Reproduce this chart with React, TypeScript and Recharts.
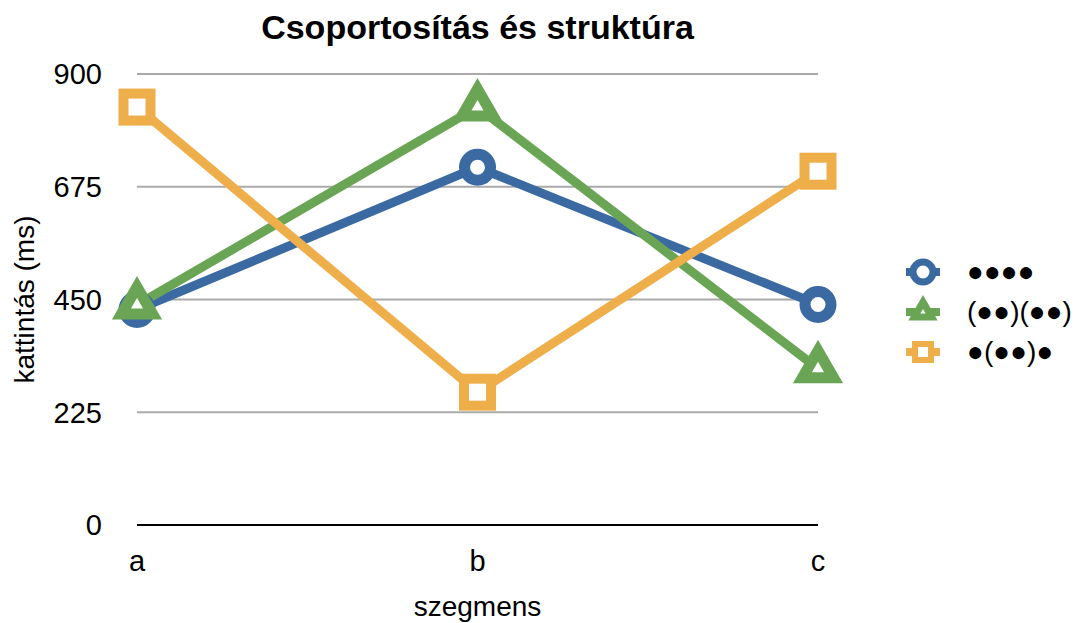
import React from "react";
import { CartesianGrid, Line, LineChart, XAxis, YAxis } from "recharts";

const categories = ["a", "b", "c"];
const yTicks = [0, 225, 450, 675, 900];

const fourDots = [430, 714, 440];
const pairedDots = [439, 834, 312];
const nestedDots = [834, 265, 706];

type Shape = "circle" | "triangle" | "square";

const series: { key: string; name: string; color: string; shape: Shape; values: number[] }[] = [
  { key: "s1", name: "●●●●", color: "#3b6aa2", shape: "circle", values: fourDots },
  { key: "s2", name: "(●●)(●●)", color: "#6aa556", shape: "triangle", values: pairedDots },
  { key: "s3", name: "●(●●)●", color: "#eeae4a", shape: "square", values: nestedDots },
];

const data = categories.map((cat, i) => {
  const row: Record<string, string | number> = { cat };
  series.forEach((s) => (row[s.key] = s.values[i]));
  return row;
});

const FONT = '"Liberation Sans", Arial, Helvetica, sans-serif';

function Marker({ cx, cy, shape, color, small }: { cx: number; cy: number; shape: Shape; color: string; small?: boolean }) {
  if (shape === "circle") {
    return <circle cx={cx} cy={cy} r={small ? 10 : 13} fill="#fff" stroke={color} strokeWidth={small ? 7 : 11} />;
  }
  if (shape === "square") {
    const s = small ? 16 : 27;
    return (
      <rect x={cx - s / 2} y={cy - s / 2} width={s} height={s} fill="#fff" stroke={color} strokeWidth={small ? 6 : 10} />
    );
  }
  const r = small ? 10 : 18;
  const h = r * 0.866;
  const pts = `${cx},${cy - r} ${cx + h},${cy + r / 2} ${cx - h},${cy + r / 2}`;
  return <polygon points={pts} fill="#fff" stroke={color} strokeWidth={small ? 7 : 11} strokeLinejoin="miter" />;
}

const dotFor = (shape: Shape, color: string) => (p: any) =>
  <Marker key={`${shape}-${p.index}`} cx={p.cx} cy={p.cy} shape={shape} color={color} />;

export default function App() {
  return (
    <div style={{ position: "absolute", left: 0, top: 0, width: 1077, height: 623, background: "#fff", fontFamily: FONT }}>
      <div
        style={{
          position: "absolute",
          left: 0,
          top: 10,
          width: 955,
          textAlign: "center",
          fontSize: 34,
          lineHeight: "34px",
          fontWeight: "bold",
          color: "#000",
        }}
      >
        Csoportosítás és struktúra
      </div>
      <LineChart width={1077} height={623} data={data} margin={{ top: 74, right: 259, bottom: 0, left: 0 }}>
        <CartesianGrid vertical={false} stroke="#aaaaaa" strokeWidth={2} />
        <XAxis
          dataKey="cat"
          height={98}
          padding={{ left: 0, right: 0 }}
          axisLine={{ stroke: "#000", strokeWidth: 2 }}
          tickLine={false}
          tickSize={0}
          tickMargin={25}
          tick={{ fill: "#000", fontSize: 29, fontFamily: FONT }}
          label={{ value: "szegmens", position: "insideBottom", offset: 7, fill: "#000", fontSize: 28, fontFamily: FONT }}
        />
        <YAxis
          width={137}
          domain={[0, 900]}
          ticks={yTicks}
          axisLine={false}
          tickLine={false}
          tickSize={0}
          tickMargin={35}
          tick={{ fill: "#000", fontSize: 29, fontFamily: FONT }}
          label={{
            value: "kattintás (ms)",
            angle: -90,
            position: "insideLeft",
            offset: 24,
            fill: "#000",
            fontSize: 28,
            fontFamily: FONT,
            style: { textAnchor: "middle" },
          }}
        />
        {series.map((s) => (
          <Line
            key={s.key}
            dataKey={s.key}
            name={s.name}
            stroke={s.color}
            strokeWidth={9}
            dot={dotFor(s.shape, s.color)}
            activeDot={false}
            isAnimationActive={false}
          />
        ))}
      </LineChart>
      <div style={{ position: "absolute", left: 905, top: 252 }}>
        {series.map((s) => (
          <div key={s.key} style={{ display: "flex", alignItems: "center", height: 40 }}>
            <svg width={36} height={36} style={{ marginRight: 26 }}>
              <line x1={1} y1={18} x2={35} y2={18} stroke={s.color} strokeWidth={8} />
              <Marker cx={18} cy={18} shape={s.shape} color={s.color} small />
            </svg>
            <span style={{ fontSize: 28, color: "#000", lineHeight: "40px" }}>{s.name}</span>
          </div>
        ))}
      </div>
    </div>
  );
}
